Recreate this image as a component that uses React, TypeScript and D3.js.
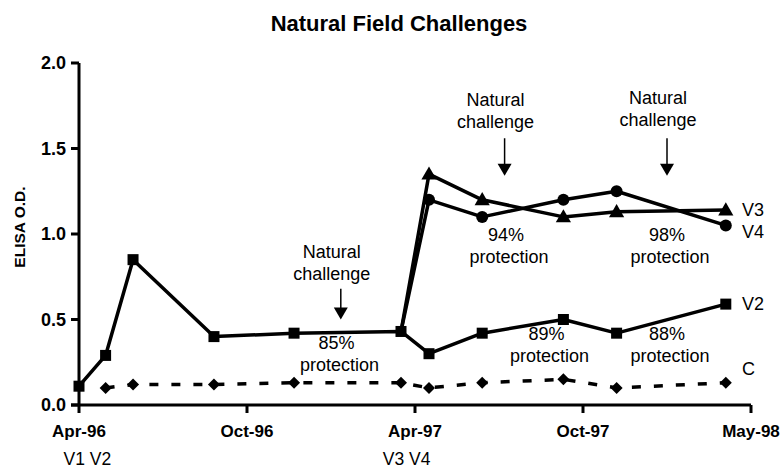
import * as d3 from "d3";

// month offsets from Apr-96
const months = [0, 0.95, 1.93, 4.82, 7.68, 11.5, 12.5, 14.4, 17.3, 19.2, 23.1];
const v2 = [0.11, 0.29, 0.85, 0.4, 0.42, 0.43, 0.3, 0.42, 0.5, 0.42, 0.59];
const boostMonths = [11.5, 12.5, 14.4, 17.3, 19.2, 23.1];
const v3 = [0.43, 1.35, 1.2, 1.1, 1.13, 1.14];
const v4 = [0.43, 1.2, 1.1, 1.2, 1.25, 1.05];
const cMonths = [0.95, 1.93, 4.82, 7.68, 11.5, 12.5, 14.4, 17.3, 19.2, 23.1];
const control = [0.1, 0.12, 0.12, 0.13, 0.13, 0.1, 0.13, 0.15, 0.1, 0.13];

const xTicks = [0, 6, 12, 18, 24];
const xTickLabels = ["Apr-96", "Oct-96", "Apr-97", "Oct-97", "May-98"];
const yTicks = [0, 0.5, 1.0, 1.5, 2.0];
const vaccinations = [
  { m: 0.3, label: "V1 V2" },
  { m: 11.7, label: "V3 V4" },
];
const challenges = [
  { m: 9.35, tip: 0.5, top: 0.68, textY: 0.86 },
  { m: 15.2, tip: 1.34, top: 1.56, textY: 1.75 },
  { m: 21.0, tip: 1.34, top: 1.56, textY: 1.76 },
];
const protections = [
  { m: 9.2, v: 0.33, label: "85%" },
  { m: 15.25, v: 0.96, label: "94%" },
  { m: 21.0, v: 0.96, label: "98%" },
  { m: 16.7, v: 0.38, label: "89%" },
  { m: 21.0, v: 0.38, label: "88%" },
];
const endLabels = [
  { label: "V3", v: 1.105 },
  { label: "V4", v: 0.977 },
  { label: "V2", v: 0.556 },
  { label: "C", v: 0.175 },
];

const W = 782;
const H = 470;
const font = "'Liberation Sans', Arial, sans-serif";

export default function App() {
  const x = d3.scaleLinear().domain([0, 24]).range([79, 751]);
  const y = d3.scaleLinear().domain([0, 2]).range([405, 63]);

  const line = d3
    .line<[number, number]>()
    .x((d) => x(d[0]))
    .y((d) => y(d[1]));

  const v2pts = months.map((m, i) => [m, v2[i]] as [number, number]);
  const v3pts = boostMonths.map((m, i) => [m, v3[i]] as [number, number]);
  const v4pts = boostMonths.map((m, i) => [m, v4[i]] as [number, number]);
  const cpts = cMonths.map((m, i) => [m, control[i]] as [number, number]);

  const tri = d3.symbol().type(d3.symbolTriangle).size(100)();
  const dia = "M0,-6L6,0L0,6L-6,0Z";

  return (
    <svg width={W} height={H} style={{ display: "block", position: "absolute", left: 0, top: 0 }} fontFamily={font}>
      <rect width={W} height={H} fill="#fff" />
      <text x={399} y={31} textAnchor="middle" fontSize={22} fontWeight="bold">
        Natural Field Challenges
      </text>

      {/* y axis */}
      <text transform={`translate(25, 227) rotate(-90)`} textAnchor="middle" fontSize={15.5} fontWeight="bold">
        ELISA O.D.
      </text>
      <line x1={x(0)} x2={x(0)} y1={y(0)} y2={y(2)} stroke="#000" strokeWidth={3} />
      {yTicks.map((t) => (
        <g key={t}>
          <line x1={x(0) - 8} x2={x(0)} y1={y(t)} y2={y(t)} stroke="#000" strokeWidth={3} />
          <text x={66} y={y(t) + 6} textAnchor="end" fontSize={18} fontWeight="bold">
            {t.toFixed(1)}
          </text>
        </g>
      ))}

      {/* x axis */}
      <line x1={x(0) - 8} x2={x(24)} y1={y(0)} y2={y(0)} stroke="#000" strokeWidth={3} />
      {xTicks.map((t, i) => (
        <g key={t}>
          <line x1={x(t)} x2={x(t)} y1={y(0)} y2={y(0) + 8} stroke="#000" strokeWidth={3} />
          <text x={x(t)} y={437} textAnchor="middle" fontSize={17} fontWeight="bold">
            {xTickLabels[i]}
          </text>
        </g>
      ))}
      {vaccinations.map((v) => (
        <text key={v.label} x={x(v.m)} y={465} textAnchor="middle" fontSize={17.5}>
          {v.label}
        </text>
      ))}

      {/* series */}
      <path d={line(cpts) ?? ""} fill="none" stroke="#000" strokeWidth={3.5} strokeDasharray="9,13" />
      <path d={line(v2pts) ?? ""} fill="none" stroke="#000" strokeWidth={3.5} strokeLinejoin="round" />
      <path d={line(v3pts) ?? ""} fill="none" stroke="#000" strokeWidth={3.5} strokeLinejoin="round" />
      <path d={line(v4pts) ?? ""} fill="none" stroke="#000" strokeWidth={3.5} strokeLinejoin="round" />
      {cpts.map((d, i) => (
        <path key={"c" + i} d={dia} transform={`translate(${x(d[0])},${y(d[1])})`} fill="#000" />
      ))}
      {v2pts.map((d, i) => (
        <rect key={"s" + i} x={x(d[0]) - 5.5} y={y(d[1]) - 5.5} width={11} height={11} fill="#000" />
      ))}
      {v3pts.slice(1).map((d, i) => (
        <path key={"t" + i} d={tri ?? ""} transform={`translate(${x(d[0])},${y(d[1]) + 1})`} fill="#000" />
      ))}
      {v4pts.slice(1).map((d, i) => (
        <circle key={"o" + i} cx={x(d[0])} cy={y(d[1])} r={6} fill="#000" />
      ))}

      {/* annotations */}
      {challenges.map((c, i) => (
        <g key={"ch" + i}>
          <text x={x(c.m) - 9} y={y(c.textY)} textAnchor="middle" fontSize={18}>
            <tspan x={x(c.m) - 9}>Natural</tspan>
            <tspan x={x(c.m) - 9} dy={22}>challenge</tspan>
          </text>
          <line x1={x(c.m)} x2={x(c.m)} y1={y(c.top)} y2={y(c.tip) - 10} stroke="#000" strokeWidth={1.5} />
          <path
            d={`M${x(c.m) - 7},${y(c.tip) - 12}L${x(c.m) + 7},${y(c.tip) - 12}L${x(c.m)},${y(c.tip)}Z`}
            fill="#000"
          />
        </g>
      ))}
      {protections.map((p, i) => (
        <text key={"p" + i} x={x(p.m)} y={y(p.v)} textAnchor="middle" fontSize={18}>
          <tspan x={x(p.m)}>{p.label}</tspan>
          <tspan x={x(p.m) + 3} dy={22}>protection</tspan>
        </text>
      ))}
      {endLabels.map((l) => (
        <text key={l.label} x={742} y={y(l.v)} fontSize={18}>
          {l.label}
        </text>
      ))}
    </svg>
  );
}
